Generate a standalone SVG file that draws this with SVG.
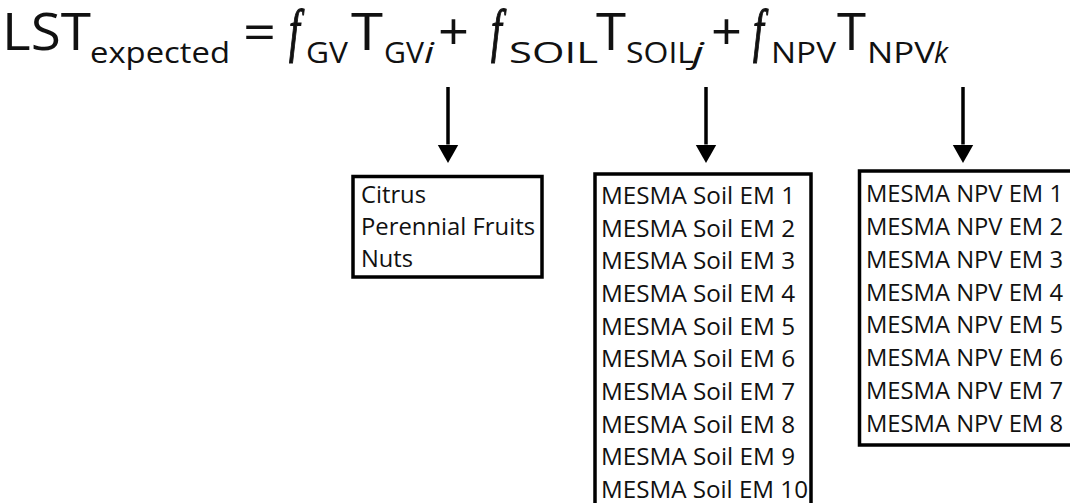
<svg xmlns="http://www.w3.org/2000/svg" width="1070" height="503" viewBox="0 0 1070 503">
<style>
  .eq { font-family: "Open Sans", "Noto Sans", sans-serif; fill: #111; }
  .big { font-size: 52px; }
  .sub { font-size: 29px; }
  .it { font-style: italic; }
  .fn { font-family: "Liberation Serif", "DejaVu Serif", serif; font-style: italic; font-size: 60px; fill: #111; stroke: #111; stroke-width: 1.2; }
  .box { fill: #fff; stroke: #000; stroke-width: 3.5; }
  .lbl { font-family: "Open Sans", "Noto Sans", sans-serif; font-size: 24.5px; fill: #111; }
  .conn { stroke: #000; stroke-width: 3.5; fill: none; }
</style>
<defs>
  <marker id="head" markerUnits="userSpaceOnUse" markerWidth="20" markerHeight="22" refX="0" refY="10.5" orient="auto" viewBox="0 0 20 22">
    <path d="M0,0 L18.5,10.5 L0,21 z" fill="#000"/>
  </marker>
</defs>
<rect width="1070" height="503" fill="#fff"/>

<g id="equation">
  <text class="eq big" x="2" y="50" textLength="89" lengthAdjust="spacingAndGlyphs">LST</text>
  <text class="eq sub" x="90" y="63" textLength="140" lengthAdjust="spacingAndGlyphs">expected</text>
  <text class="eq big" x="243" y="50" textLength="33" lengthAdjust="spacingAndGlyphs">=</text>
  <text class="fn" transform="translate(289,50) scale(0.65,1)">f</text>
  <text class="eq sub" x="306" y="63" textLength="42" lengthAdjust="spacingAndGlyphs">GV</text>
  <text class="eq big" x="351" y="50" textLength="32" lengthAdjust="spacingAndGlyphs">T</text>
  <text class="eq sub" x="384" y="63" textLength="40" lengthAdjust="spacingAndGlyphs">GV</text>
  <text class="eq sub it" x="424" y="63" textLength="10" lengthAdjust="spacingAndGlyphs">i</text>
  <text class="eq big" x="438" y="50" textLength="31" lengthAdjust="spacingAndGlyphs">+</text>
  <text class="fn" transform="translate(491,50) scale(0.65,1)">f</text>
  <text class="eq sub" x="509" y="63" textLength="89" lengthAdjust="spacingAndGlyphs">SOIL</text>
  <text class="eq big" x="596" y="50" textLength="30" lengthAdjust="spacingAndGlyphs">T</text>
  <text class="eq sub" x="626" y="63" textLength="68" lengthAdjust="spacingAndGlyphs">SOIL</text>
  <text class="eq sub it" x="692" y="63" textLength="12" lengthAdjust="spacingAndGlyphs">j</text>
  <text class="eq big" x="711" y="50" textLength="31" lengthAdjust="spacingAndGlyphs">+</text>
  <text class="fn" transform="translate(753,50) scale(0.65,1)">f</text>
  <text class="eq sub" x="771" y="63" textLength="65" lengthAdjust="spacingAndGlyphs">NPV</text>
  <text class="eq big" x="837" y="50" textLength="29" lengthAdjust="spacingAndGlyphs">T</text>
  <text class="eq sub" x="867" y="63" textLength="68" lengthAdjust="spacingAndGlyphs">NPV</text>
  <text class="eq sub it" x="934" y="63" textLength="14" lengthAdjust="spacingAndGlyphs">k</text>
</g>

<g id="connectors">
  <line class="conn" x1="448" y1="87" x2="448" y2="144.5" marker-end="url(#head)"/>
  <line class="conn" x1="706" y1="87" x2="706" y2="144.5" marker-end="url(#head)"/>
  <line class="conn" x1="963" y1="87" x2="963" y2="144.5" marker-end="url(#head)"/>
</g>

<g id="box-gv">
  <rect class="box" x="353" y="176.5" width="189" height="100.5"/>
  <text class="lbl" x="361" y="203" textLength="65" lengthAdjust="spacingAndGlyphs">Citrus</text>
  <text class="lbl" x="361" y="235" textLength="174" lengthAdjust="spacingAndGlyphs">Perennial Fruits</text>
  <text class="lbl" x="361" y="267" textLength="52" lengthAdjust="spacingAndGlyphs">Nuts</text>
</g>

<g id="box-soil">
  <rect class="box" x="595" y="174" width="216" height="340"/>
  <text class="lbl" x="601" y="204" textLength="194" lengthAdjust="spacingAndGlyphs">MESMA Soil EM 1</text>
  <text class="lbl" x="601" y="236.7" textLength="194" lengthAdjust="spacingAndGlyphs">MESMA Soil EM 2</text>
  <text class="lbl" x="601" y="269.3" textLength="194" lengthAdjust="spacingAndGlyphs">MESMA Soil EM 3</text>
  <text class="lbl" x="601" y="302" textLength="194" lengthAdjust="spacingAndGlyphs">MESMA Soil EM 4</text>
  <text class="lbl" x="601" y="334.7" textLength="194" lengthAdjust="spacingAndGlyphs">MESMA Soil EM 5</text>
  <text class="lbl" x="601" y="367.3" textLength="194" lengthAdjust="spacingAndGlyphs">MESMA Soil EM 6</text>
  <text class="lbl" x="601" y="400" textLength="194" lengthAdjust="spacingAndGlyphs">MESMA Soil EM 7</text>
  <text class="lbl" x="601" y="432.7" textLength="194" lengthAdjust="spacingAndGlyphs">MESMA Soil EM 8</text>
  <text class="lbl" x="601" y="465.3" textLength="194" lengthAdjust="spacingAndGlyphs">MESMA Soil EM 9</text>
  <text class="lbl" x="601" y="498" textLength="207" lengthAdjust="spacingAndGlyphs">MESMA Soil EM 10</text>
</g>

<g id="box-npv">
  <rect class="box" x="859.5" y="171" width="230" height="274"/>
  <text class="lbl" x="866" y="202" textLength="197" lengthAdjust="spacingAndGlyphs">MESMA NPV EM 1</text>
  <text class="lbl" x="866" y="234.9" textLength="197" lengthAdjust="spacingAndGlyphs">MESMA NPV EM 2</text>
  <text class="lbl" x="866" y="267.7" textLength="197" lengthAdjust="spacingAndGlyphs">MESMA NPV EM 3</text>
  <text class="lbl" x="866" y="300.6" textLength="197" lengthAdjust="spacingAndGlyphs">MESMA NPV EM 4</text>
  <text class="lbl" x="866" y="333.4" textLength="197" lengthAdjust="spacingAndGlyphs">MESMA NPV EM 5</text>
  <text class="lbl" x="866" y="366.3" textLength="197" lengthAdjust="spacingAndGlyphs">MESMA NPV EM 6</text>
  <text class="lbl" x="866" y="399.1" textLength="197" lengthAdjust="spacingAndGlyphs">MESMA NPV EM 7</text>
  <text class="lbl" x="866" y="432" textLength="197" lengthAdjust="spacingAndGlyphs">MESMA NPV EM 8</text>
</g>
</svg>
